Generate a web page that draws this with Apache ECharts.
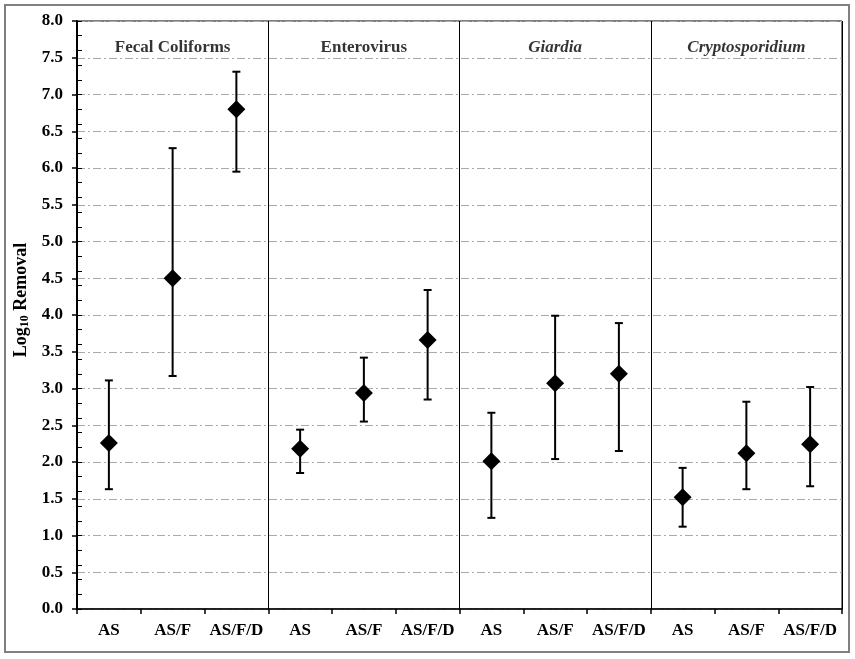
<!DOCTYPE html>
<html>
<head>
<meta charset="utf-8">
<script src="https://cdn.jsdelivr.net/npm/echarts@6/dist/echarts.min.js"></script>
<style>html,body{margin:0;padding:0;background:#fff;}#c{width:855px;height:659px;}</style>
</head>
<body>
<div id="c"></div>
<script>
const categories = ['AS','AS/F','AS/F/D','AS','AS/F','AS/F/D','AS','AS/F','AS/F/D','AS','AS/F','AS/F/D'];
const meanValues  = [2.26, 4.50, 6.80, 2.18, 2.94, 3.66, 2.01, 3.07, 3.20, 1.52, 2.12, 2.24];
const upperValues = [3.11, 6.27, 7.31, 2.44, 3.42, 4.34, 2.67, 3.99, 3.89, 1.92, 2.82, 3.02];
const lowerValues = [1.63, 3.17, 5.95, 1.85, 2.55, 2.85, 1.24, 2.04, 2.15, 1.12, 1.63, 1.67];
const groupNames  = ['Fecal Coliforms', 'Enterovirus', 'Giardia', 'Cryptosporidium'];
const groupItalic = [false, false, true, true];
const groupCenters = [1.5, 4.5, 7.5, 10.5];
const groupLabelY = 7.64;

const FONT = 'Liberation Serif';
const chart = echarts.init(document.getElementById('c'));

const option = {
  backgroundColor: '#fff',
  animation: false,
  graphic: [{
    type: 'rect', silent: true,
    shape: { x: 5, y: 5, width: 844, height: 647 },
    style: { fill: 'none', stroke: '#808080', lineWidth: 2 }
  }],
  grid: {
    left: 77, right: 13, top: 21, bottom: 50,
    outerBoundsMode: 'none', containLabel: false,
    show: true, borderColor: '#000', borderWidth: 1, backgroundColor: 'transparent'
  },
  xAxis: [{
    type: 'category',
    data: categories,
    boundaryGap: true,
    axisLine: { lineStyle: { color: '#000', width: 1.5 } },
    axisTick: { show: true, alignWithLabel: false, length: 5, lineStyle: { color: '#000', width: 1.5 } },
    axisLabel: { color: '#000', fontFamily: FONT, fontWeight: 'bold', fontSize: 17, margin: 13, interval: 0 },
    splitLine: { show: true, interval: function (index) { return index === 3 || index === 6 || index === 9; }, lineStyle: { color: '#000', width: 1, type: 'solid' } }
  }, {
    type: 'value', min: 0, max: 12, show: false
  }],
  yAxis: [{
    type: 'value', min: 0, max: 8, interval: 0.5,
    name: '{a|Log}{s|10}{a| Removal}',
    nameLocation: 'middle', nameGap: 46, nameRotate: 90,
    nameTextStyle: {
      padding: [0, 0, 0, 30],
      rich: {
        a: { fontFamily: FONT, fontWeight: 'bold', fontSize: 18, color: '#000' },
        s: { fontFamily: FONT, fontWeight: 'bold', fontSize: 12, color: '#000', verticalAlign: 'bottom', padding: [7, 0, 0, 0] }
      }
    },
    axisLine: { show: true, lineStyle: { color: '#000', width: 2 } },
    axisTick: { show: true, inside: false, length: 5, lineStyle: { color: '#000', width: 1.5 } },
    axisLabel: { color: '#000', fontFamily: FONT, fontWeight: 'bold', fontSize: 17, margin: 14, formatter: v => v.toFixed(1) },
    splitLine: { show: true, lineStyle: { color: '#aaaaaa', width: 1, type: [8, 3, 2, 3] } }
  }, {
    type: 'value', min: 0, max: 8, interval: 0.2, position: 'left',
    axisLine: { show: false },
    axisTick: { show: true, inside: true, length: 5, lineStyle: { color: '#000', width: 1 } },
    axisLabel: { show: false },
    splitLine: { show: false }
  }],
  series: [{
    type: 'custom',
    xAxisIndex: 0, yAxisIndex: 0,
    z: 3,
    renderItem: function (params, api) {
      const x = api.value(0);
      const lo = api.coord([x, api.value(1)]);
      const hi = api.coord([x, api.value(2)]);
      const hw = 4;
      const st = { stroke: '#000', lineWidth: 2 };
      return {
        type: 'group',
        children: [
          { type: 'line', shape: { x1: lo[0], y1: lo[1], x2: hi[0], y2: hi[1] }, style: st },
          { type: 'line', shape: { x1: hi[0] - hw, y1: hi[1], x2: hi[0] + hw, y2: hi[1] }, style: st },
          { type: 'line', shape: { x1: lo[0] - hw, y1: lo[1], x2: lo[0] + hw, y2: lo[1] }, style: st }
        ]
      };
    },
    data: categories.map((c, i) => [i, lowerValues[i], upperValues[i]])
  }, {
    type: 'scatter',
    xAxisIndex: 0, yAxisIndex: 0,
    z: 4,
    symbol: 'diamond',
    symbolSize: [18, 18],
    itemStyle: { color: '#000', opacity: 1 },
    data: categories.map((c, i) => [i, meanValues[i]])
  }, {
    type: 'scatter',
    xAxisIndex: 1, yAxisIndex: 0,
    symbolSize: 0,
    silent: true,
    label: {
      show: true, position: 'inside',
      formatter: p => p.data.name,
      color: '#000', fontFamily: FONT, fontWeight: 'bold', fontSize: 17
    },
    data: groupNames.map((n, i) => ({
      name: n,
      value: [groupCenters[i], groupLabelY],
      label: { fontStyle: groupItalic[i] ? 'italic' : 'normal' }
    }))
  }]
};
chart.setOption(option);
</script>
</body>
</html>
